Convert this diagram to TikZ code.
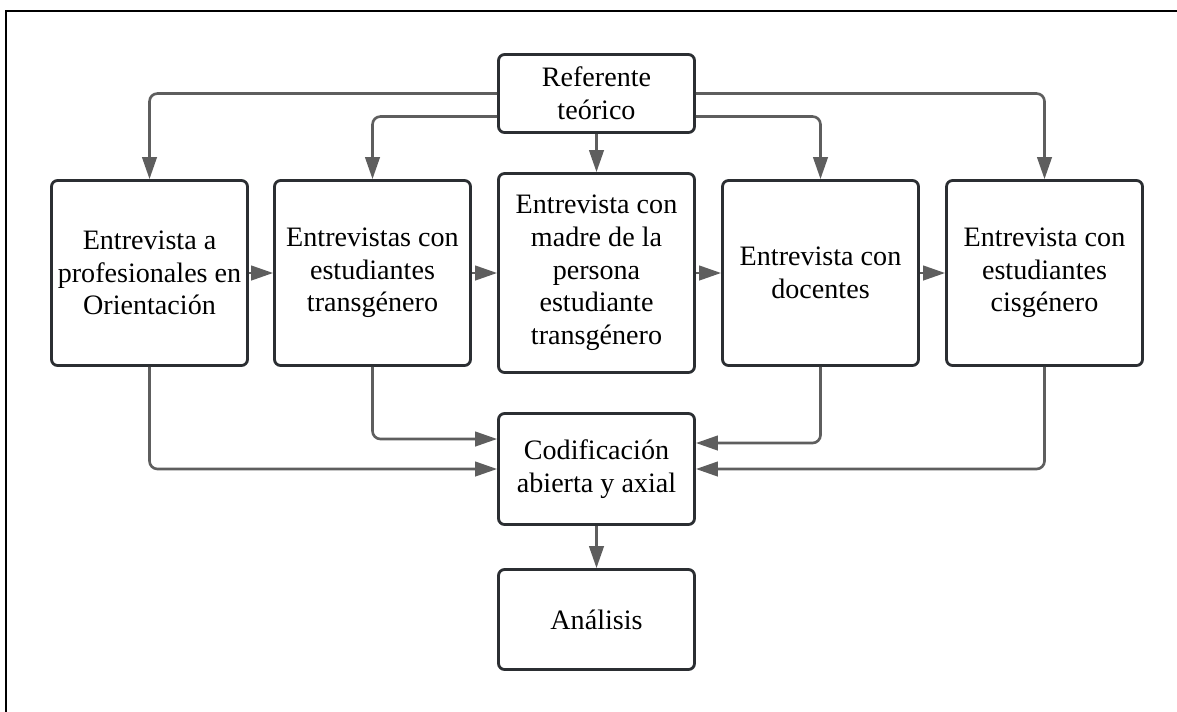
\documentclass[tikz,border=0pt]{standalone}
\usepackage{fontspec}
\setmainfont{Liberation Serif}
\usepackage{tikz}
\usetikzlibrary{positioning}
\usetikzlibrary{arrows.meta}
\definecolor{boxline}{HTML}{2B2E32}
\definecolor{arrowgray}{HTML}{5E5E5E}

\begin{document}
\begin{tikzpicture}[x=0.02cm, y=-0.02cm,
    stage/.style={draw=boxline, line width=1.6pt, rounded corners=0.12cm, minimum width=3.92cm,
        align=center, inner sep=0pt, font=\fontsize{16}{18.6}\selectfont},
    conn/.style={draw=arrowgray, line width=1.5pt, rounded corners=0.16cm,
        -{Triangle[length=0.44cm, width=0.29cm]}}]
            \useasboundingbox (0,0) rectangle (1177,711);

            % Frame
            \draw[line width=1.4pt] (6,720) -- (6,11) -- (1190,11);

            % Boxes
            \node[stage, minimum height=1.56cm] (ref) at (596.5,93.5) {Referente\\teórico};
            \node[stage, minimum height=3.7cm] (prof) at (149.5,273) {Entrevista a\\profesionales en\\Orientación};
            \node[stage, minimum height=3.7cm] (trans) at (372.5,273) {Entrevistas con\\estudiantes\\transgénero};
            \node[stage, minimum height=3.98cm] (madre) at (596.5,273) {Entrevista con\\madre de la\\persona\\estudiante\\transgénero};
            \node[stage, minimum height=3.7cm] (doc) at (820.5,273) {Entrevista con\\docentes};
            \node[stage, minimum height=3.7cm] (cis) at (1044.5,273) {Entrevista con\\estudiantes\\cisgénero};
            \node[stage, minimum height=2.22cm] (cod) at (596.5,469) {Codificación\\abierta y axial};
            \node[stage, minimum height=2.0cm] (ana) at (596.5,619.5) {Análisis};

            % From the theory box
            \draw[conn] (ref.west) -| (prof);
            \draw[conn] ([yshift=-0.46cm]ref.west) -| (trans);
            \draw[conn] (ref) -- (madre);
            \draw[conn] ([yshift=-0.46cm]ref.east) -| (doc);
            \draw[conn] (ref.east) -| (cis);

            % Row of interviews
            \draw[conn] (prof) -- (trans);
            \draw[conn] (trans) -- (madre);
            \draw[conn] (madre) -- (doc);
            \draw[conn] (doc) -- (cis);

            % Into the coding box
            \draw[conn] (prof) |- (cod.west);
            \draw[conn] (trans) |- ([yshift=0.6cm]cod.west);
            \draw[conn] (doc) |- ([yshift=0.52cm]cod.east);
            \draw[conn] (cis) |- (cod.east);
            \draw[conn] (cod) -- (ana);
        \end{tikzpicture}
\end{document}
